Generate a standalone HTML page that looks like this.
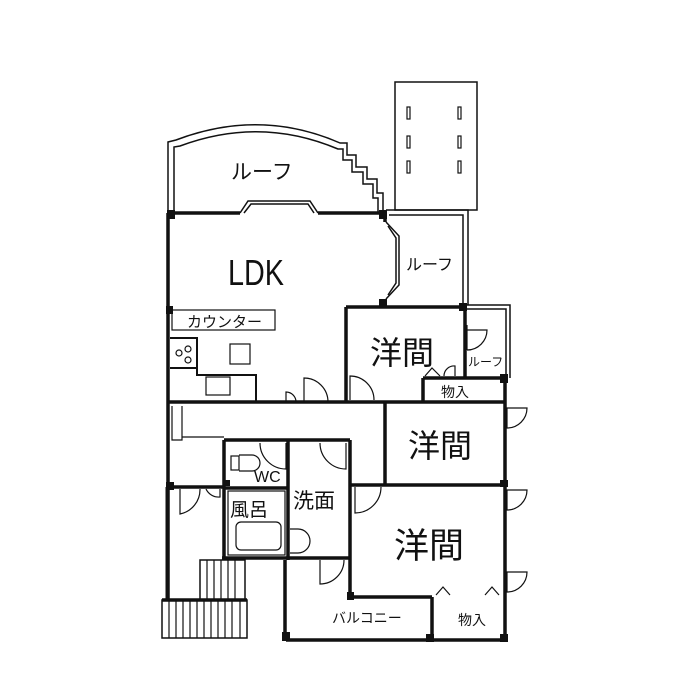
<!DOCTYPE html>
<html><head><meta charset="utf-8"><style>
html,body{margin:0;padding:0;background:#fff;width:700px;height:700px;overflow:hidden}
svg{display:block}
text{font-family:"Liberation Sans","Noto Sans CJK JP",sans-serif;fill:#111}
</style></head><body>
<svg width="700" height="700" viewBox="0 0 700 700" xmlns="http://www.w3.org/2000/svg">
<g fill="none" stroke="#111" stroke-width="1.5">
<path d="M168 212 L168 142 L176 140 Q260 108 340 143 L347 143 L347 155 L356 155 L356 167 L367 167 L367 179 L377 179 L377 193 L383 193 L383 212"/>
<path d="M174 212 L174 147 L180 146 Q260 116 338 149 L343 149 L343 160 L352 160 L352 172 L363 172 L363 184 L373 184 L373 198 L378 198 L378 212"/>
<path d="M240 213 L248 201 L310 201 L318 213"/>
<path d="M244 213 L251 204 L308 204 L314 213"/>
<rect x="395" y="82" width="82" height="128"/>
<path d="M386 210 L468 210 L468 305"/>
<path d="M389 215 L463 215 L463 305"/>
<path d="M386 222 L399 236 L399 285 L386 299"/>
<path d="M388 226 L396 238 L396 283 L388 295"/>
<path d="M466 305 L510 305 L510 378"/>
<path d="M466 309 L506 309 L506 378"/>
<g stroke-width="1.2">
<rect x="407" y="107" width="3" height="12"/><rect x="458" y="107" width="3" height="12"/>
<rect x="407" y="136" width="3" height="12"/><rect x="458" y="136" width="3" height="12"/>
<rect x="407" y="161" width="3" height="12"/><rect x="458" y="161" width="3" height="12"/>
</g>
</g>
<g fill="none" stroke="#111" stroke-width="3.5">
<path d="M168 213 L240 213 M318 213 L385 213 L385 222 M385 299 L385 305"/>
<path d="M168 213 L168 600"/>
<path d="M346 307 L465 307 L465 378"/>
<path d="M346 307 L346 402"/>
<path d="M168 402 L505 402"/>
<path d="M505 378 L505 640"/>
<path d="M423 378 L505 378"/>
<path d="M423 378 L423 402"/>
<path d="M385 402 L385 485"/>
<path d="M350 485 L505 485"/>
<path d="M350 440 L350 597 L432 597"/>
<path d="M432 597 L432 640"/>
<path d="M286 640 L505 640"/>
<path d="M285 560 L285 640"/>
<path d="M224 440 L350 440"/>
<path d="M224 440 L224 560"/>
<path d="M288 440 L288 560"/>
<path d="M224 488 L288 488"/>
<path d="M168 487 L224 487"/>
<path d="M222 558 L350 558"/>
</g>
<g fill="none" stroke="#111" stroke-width="2">
<path d="M170 338 L197 338 L197 368 L170 368"/>
<path d="M197 368 L197 375 L256 375 L256 402"/>
</g>
<g fill="#111">
<rect x="167" y="210" width="8" height="9"/><rect x="379" y="210" width="8" height="9"/>
<rect x="379" y="299" width="8" height="8"/><rect x="459" y="303" width="8" height="8"/>
<rect x="500" y="374" width="8" height="9"/><rect x="166" y="306" width="7" height="8"/>
<rect x="500" y="480" width="8" height="7"/><rect x="347" y="592" width="7" height="8"/>
<rect x="426" y="634" width="8" height="8"/><rect x="500" y="634" width="8" height="8"/>
<rect x="282" y="632" width="8" height="9"/><rect x="166" y="482" width="8" height="8"/>
<rect x="225" y="480" width="5" height="6"/>
</g>
<g fill="none" stroke="#111" stroke-width="1.2">
<rect x="172" y="310" width="103" height="20"/>
<circle cx="179" cy="353" r="3"/><circle cx="188" cy="349" r="3"/><circle cx="188" cy="360" r="3"/>
<rect x="230" y="344" width="20" height="20"/>
<rect x="206" y="377" width="24" height="18"/>
<path d="M304 402 L304 378 A24 24 0 0 1 328 402"/>
<path d="M286 402 L286 392 A10 10 0 0 1 296 402"/>
<path d="M350 400 L350 376 A24 24 0 0 1 374 400"/>
<path d="M467 325 L467 350 M467 350 A20 20 0 0 0 487 330 L467 330"/>
<path d="M425 376 L432 368 L440 376 M444 376 A10 10 0 0 1 455 366 L455 376"/>
<path d="M172 406 L172 440 L182 440 L182 406"/>
<path d="M182 437 L224 437"/>
<path d="M260 443 A26 26 0 0 0 286 469 L286 443"/>
<rect x="231" y="456" width="8" height="14"/>
<path d="M239 455 L252 455 A7 7 0 0 1 252 471 L239 471"/>
<path d="M320 443 A26 26 0 0 0 346 469 L346 443"/>
<path d="M355 487 L355 513 A26 26 0 0 0 381 487"/>
<path d="M290 529 L298 529 A12 12 0 0 1 298 553 L290 553"/>
<rect x="228" y="491" width="57" height="64"/>
<rect x="236" y="522" width="45" height="28" rx="5"/>
<path d="M180 489 L180 514 A25 25 0 0 0 200 489"/>
<path d="M220 489 L220 497 A14 14 0 0 1 206 489"/>
<path d="M320 560 L320 584 A24 24 0 0 0 344 560"/>
<path d="M507 408 L507 428 A20 20 0 0 0 527 408 Z"/>
<path d="M507 490 L507 510 A20 20 0 0 0 527 490 Z"/>
<path d="M507 572 L507 592 A20 20 0 0 0 527 572 Z"/>
<path d="M436 595 L443 587 L450 595 M485 595 L492 587 L499 595"/>
</g>
<g stroke="#111" fill="none">
<rect x="200" y="560" width="45" height="40" stroke-width="1.5"/>
<path d="M207 560V600M214 560V600M221 560V600M228 560V600M235 560V600" stroke-width="1.2"/>
<rect x="162" y="600" width="85" height="38" stroke-width="1.5"/>
<path d="M162 600H247" stroke-width="3.5"/>
<path d="M169 600V638M176 600V638M183 600V638M190 600V638M197 600V638M204 600V638M211 600V638M218 600V638M225 600V638M232 600V638M240 600V638" stroke-width="1.2"/>
<path d="M167 487V600" stroke-width="3"/>
</g>
<text x="231" y="179" font-size="21">ルーフ</text>
<text x="228" y="285" font-size="36" transform="translate(228 0) scale(0.8 1) translate(-228 0)">LDK</text>
<text x="406" y="270" font-size="16">ルーフ</text>
<text x="187" y="327" font-size="15">カウンター</text>
<text x="370" y="364" font-size="32">洋間</text>
<text x="468" y="366" font-size="12">ルーフ</text>
<text x="441" y="397" font-size="14">物入</text>
<text x="408" y="457" font-size="32">洋間</text>
<text x="254" y="482" font-size="16">WC</text>
<text x="230" y="516" font-size="19">風呂</text>
<text x="293" y="508" font-size="21">洗面</text>
<text x="394" y="558" font-size="35">洋間</text>
<text x="332" y="623" font-size="14">バルコニー</text>
<text x="458" y="625" font-size="14">物入</text>
</svg>
</body></html>
